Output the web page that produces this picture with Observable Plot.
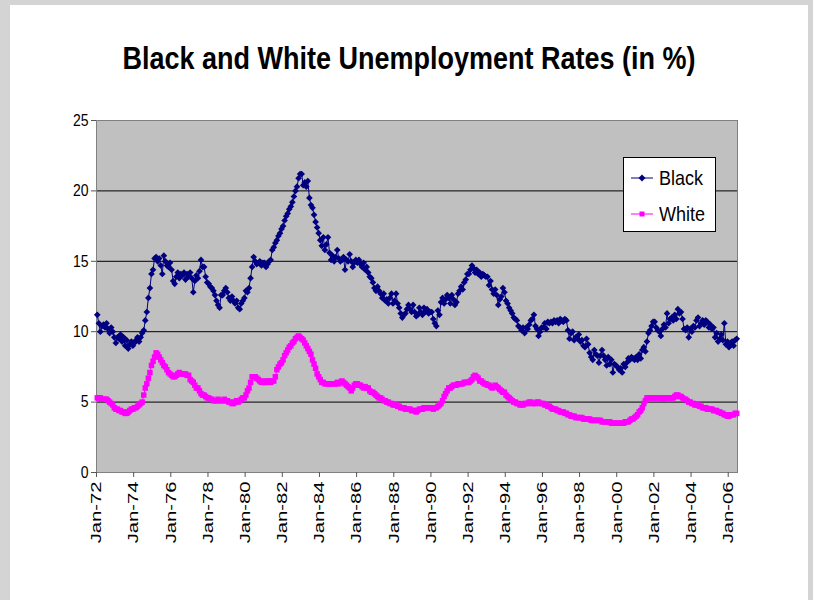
<!DOCTYPE html>
<html>
<head>
<meta charset="utf-8">
<script src="https://cdn.jsdelivr.net/npm/d3@7"></script>
<script src="https://cdn.jsdelivr.net/npm/@observablehq/plot@0.6"></script>
<style>
  html, body { margin: 0; padding: 0; width: 813px; height: 600px; overflow: hidden; background: #d4d4d4;
    font-family: "Liberation Sans", Arial, sans-serif; }
  #page { position: absolute; left: 10px; top: 5px; width: 798px; height: 595px; background: #ffffff; }
  #title { position: absolute; left: 0; top: 44px; width: 818px; text-align: center; font-weight: bold;
    font-size: 27px; color: #000; transform: scaleY(1.15); transform-origin: 50% 50%; white-space: nowrap; }
  #chart { position: absolute; left: 0; top: 0; }
  #legend { position: absolute; left: 623px; top: 157px; width: 93px; height: 75px; background: #fff;
    border: 1px solid #000; box-sizing: border-box; }
  .row { position: absolute; left: 6px; height: 22px; display: flex; align-items: center; }
  .row span { font-size: 18px; margin-left: 5px; color: #000; display: inline-block; transform: scaleY(1.1); }
</style>
</head>
<body>
<div id="page"></div>
<div id="chart"></div>
<div id="title">Black and White Unemployment Rates (in %)</div>
<div id="legend">
  <div class="row" style="top:9px"><svg width="24" height="14"><line x1="1" y1="7" x2="23" y2="7" stroke="#000080" stroke-width="1"/><path d="M12,3.5L15.5,7L12,10.5L8.5,7Z" fill="#000080"/></svg><span>Black</span></div>
  <div class="row" style="top:45px"><svg width="24" height="14"><line x1="1" y1="7" x2="23" y2="7" stroke="#ff00ff" stroke-width="1"/><rect x="9.5" y="4.5" width="5" height="5" fill="#ff00ff"/></svg><span>White</span></div>
</div>
<script>
// Monthly unemployment rates (%), Jan 1972 – Jun 2006, one row per year
const black = [
  11.2, 10.6, 10.0, 10.4, 10.5, 10.3, 10.6, 10.2, 9.9, 10.3, 10.0, 9.6,   // 1972
  9.2, 9.6, 9.5, 9.8, 9.3, 9.6, 9.0, 9.4, 8.8, 9.1, 9.3, 9.0,             // 1973
  9.2, 9.4, 9.6, 9.3, 9.6, 9.9, 10.1, 10.8, 11.4, 12.4, 13.1, 14.1,       // 1974
  14.4, 15.2, 15.3, 15.0, 15.2, 14.7, 14.1, 15.4, 15.0, 14.7, 14.6, 14.9, // 1975
  14.4, 13.6, 13.4, 13.9, 14.2, 13.8, 14.1, 14.0, 14.2, 13.7, 14.1, 13.9, // 1976
  14.2, 13.8, 12.8, 13.6, 14.0, 13.8, 14.3, 15.1, 14.6, 14.6, 13.9, 13.5, // 1977
  13.4, 13.2, 13.1, 12.9, 12.6, 12.2, 11.9, 11.7, 12.6, 12.6, 12.9, 13.1, // 1978
  12.8, 12.4, 12.2, 12.5, 12.2, 12.0, 12.2, 11.7, 11.6, 12.0, 12.2, 12.4, // 1979
  12.9, 12.8, 13.1, 13.8, 14.6, 15.3, 15.0, 14.8, 14.9, 15.0, 14.7, 14.9, // 1980
  14.9, 14.6, 14.8, 15.0, 15.1, 15.8, 16.0, 16.3, 16.5, 16.8, 17.0, 17.3, // 1981
  17.5, 17.9, 18.2, 18.4, 18.7, 18.9, 19.2, 19.6, 20.0, 20.3, 20.9, 21.2, // 1982
  21.2, 20.4, 20.6, 20.3, 20.7, 19.5, 19.0, 18.8, 18.3, 17.8, 17.4, 17.0, // 1983
  16.5, 16.1, 16.7, 15.8, 16.2, 16.7, 15.6, 15.1, 15.4, 15.0, 15.3, 15.8, // 1984
  15.2, 15.0, 15.1, 15.3, 14.4, 15.1, 15.0, 15.5, 15.0, 14.6, 14.9, 15.1, // 1985
  14.9, 15.1, 14.8, 14.6, 14.9, 14.4, 14.6, 14.2, 13.9, 13.8, 13.5, 13.1, // 1986
  12.9, 13.2, 12.9, 12.7, 12.4, 12.7, 12.2, 12.3, 12.0, 12.4, 12.7, 12.0, // 1987
  12.2, 12.7, 12.0, 11.7, 11.3, 11.0, 11.2, 11.3, 11.6, 11.9, 11.6, 11.4, // 1988
  11.9, 11.4, 11.1, 11.2, 11.7, 11.4, 11.2, 11.7, 11.4, 11.6, 11.3, 11.4, // 1989
  11.4, 10.9, 10.6, 10.4, 11.5, 11.2, 12.1, 12.4, 12.0, 12.3, 12.6, 12.4, // 1990
  12.0, 12.6, 12.3, 11.9, 12.1, 12.7, 12.9, 13.2, 13.0, 13.5, 13.7, 14.1, // 1991
  14.1, 14.4, 14.7, 14.5, 14.2, 14.4, 14.1, 14.2, 13.9, 14.1, 14.0, 13.9, // 1992
  13.9, 13.3, 13.6, 13.0, 12.7, 13.0, 12.6, 11.9, 12.3, 12.5, 13.1, 12.8, // 1993
  12.2, 12.0, 11.7, 11.5, 11.3, 11.0, 10.9, 10.8, 10.4, 10.3, 10.1, 10.3, // 1994
  9.9, 10.3, 10.2, 10.5, 10.8, 10.9, 11.2, 10.4, 10.2, 9.7, 10.0, 10.3,   // 1995
  10.3, 10.6, 10.2, 10.7, 10.6, 10.7, 10.6, 10.8, 10.7, 10.8, 10.6, 10.9, // 1996
  10.8, 10.7, 10.9, 10.8, 10.1, 9.5, 9.9, 10.0, 9.4, 9.6, 9.5, 9.8,       // 1997
  9.3, 9.4, 9.0, 8.9, 9.5, 9.1, 8.5, 8.2, 8.0, 8.7, 8.4, 8.3,             // 1998
  7.8, 8.3, 8.7, 8.3, 8.0, 7.6, 8.2, 7.7, 8.0, 7.1, 7.7, 7.6,             // 1999
  7.5, 7.3, 7.4, 7.1, 7.7, 7.5, 7.8, 8.1, 8.0, 8.2, 8.1, 8.0,             // 2000
  8.2, 8.0, 8.4, 8.1, 8.7, 8.9, 8.6, 9.3, 9.9, 10.1, 10.4, 10.7,          // 2001
  10.7, 10.3, 10.1, 10.0, 9.7, 10.2, 10.5, 10.3, 11.3, 10.6, 10.9, 11.0,  // 2002
  10.8, 11.2, 10.9, 11.6, 11.3, 11.4, 10.9, 10.2, 10.1, 10.3, 9.6, 10.2,  // 2003
  10.0, 10.4, 10.3, 10.8, 11.0, 10.4, 10.6, 10.8, 10.5, 10.8, 10.7, 10.3, // 2004
  10.5, 10.2, 10.3, 9.6, 9.9, 9.3, 9.5, 9.8, 9.4, 10.6, 9.1, 9.3,         // 2005
  8.9, 9.2, 9.3, 9.0, 9.4, 9.5                                             // 2006
];
const white = [
  5.3, 5.3, 5.3, 5.2, 5.2, 5.2, 5.2, 5.1, 5.0, 4.9, 4.8, 4.6, // 1972
  4.5, 4.5, 4.4, 4.4, 4.3, 4.3, 4.2, 4.2, 4.3, 4.4, 4.5, 4.5, // 1973
  4.6, 4.6, 4.7, 4.8, 4.9, 5.0, 5.5, 6.0, 6.3, 6.7, 7.1, 7.6, // 1974
  7.9, 8.2, 8.5, 8.4, 8.2, 8.0, 7.8, 7.6, 7.5, 7.3, 7.1, 7.0, // 1975
  6.9, 6.8, 6.8, 6.9, 7.0, 7.1, 7.0, 7.0, 7.0, 7.0, 6.9, 6.9, // 1976
  6.6, 6.5, 6.4, 6.2, 6.0, 6.0, 5.8, 5.6, 5.5, 5.5, 5.4, 5.3, // 1977
  5.3, 5.2, 5.2, 5.1, 5.1, 5.1, 5.2, 5.1, 5.1, 5.1, 5.2, 5.1, // 1978
  5.1, 5.0, 5.0, 4.9, 4.9, 5.0, 5.1, 5.0, 5.1, 5.2, 5.3, 5.3, // 1979
  5.5, 5.8, 6.0, 6.4, 6.8, 6.8, 6.8, 6.7, 6.6, 6.5, 6.4, 6.5, // 1980
  6.4, 6.4, 6.5, 6.5, 6.4, 6.5, 6.5, 6.8, 7.3, 7.5, 7.7, 7.8, // 1981
  8.0, 8.3, 8.5, 8.7, 8.9, 9.0, 9.2, 9.3, 9.5, 9.6, 9.7, 9.6, // 1982
  9.5, 9.4, 9.2, 9.0, 8.8, 8.6, 8.4, 8.0, 7.7, 7.4, 7.0, 6.8, // 1983
  6.6, 6.4, 6.4, 6.3, 6.3, 6.3, 6.3, 6.3, 6.3, 6.3, 6.3, 6.4, // 1984
  6.3, 6.4, 6.5, 6.4, 6.3, 6.2, 6.1, 6.0, 5.8, 6.0, 6.2, 6.3, // 1985
  6.3, 6.2, 6.2, 6.1, 6.0, 6.1, 6.0, 6.0, 5.8, 5.7, 5.7, 5.6, // 1986
  5.5, 5.4, 5.3, 5.3, 5.2, 5.1, 5.1, 5.0, 5.0, 4.9, 4.9, 4.8, // 1987
  4.8, 4.8, 4.7, 4.7, 4.6, 4.6, 4.6, 4.5, 4.5, 4.5, 4.5, 4.4, // 1988
  4.4, 4.4, 4.3, 4.4, 4.5, 4.5, 4.5, 4.6, 4.6, 4.6, 4.6, 4.6, // 1989
  4.6, 4.5, 4.6, 4.6, 4.7, 4.8, 4.9, 5.1, 5.4, 5.6, 5.8, 6.0, // 1990
  6.0, 6.1, 6.2, 6.2, 6.2, 6.3, 6.3, 6.3, 6.3, 6.4, 6.4, 6.4, // 1991
  6.4, 6.5, 6.6, 6.8, 6.9, 6.8, 6.7, 6.5, 6.5, 6.4, 6.3, 6.3, // 1992
  6.2, 6.2, 6.1, 6.0, 6.1, 6.2, 6.1, 6.0, 5.9, 5.8, 5.7, 5.7, // 1993
  5.5, 5.4, 5.3, 5.2, 5.1, 5.0, 5.0, 4.9, 4.9, 4.8, 4.8, 4.8, // 1994
  4.9, 4.9, 4.9, 5.0, 5.0, 4.9, 4.9, 4.9, 5.0, 5.0, 4.9, 4.9, // 1995
  4.9, 4.8, 4.8, 4.7, 4.7, 4.6, 4.5, 4.5, 4.5, 4.4, 4.4, 4.3, // 1996
  4.3, 4.3, 4.2, 4.2, 4.1, 4.1, 4.0, 4.0, 4.0, 3.9, 3.9, 3.9, // 1997
  3.9, 3.9, 3.8, 3.8, 3.8, 3.8, 3.8, 3.7, 3.7, 3.7, 3.7, 3.7, // 1998
  3.7, 3.7, 3.6, 3.6, 3.6, 3.6, 3.6, 3.6, 3.5, 3.5, 3.5, 3.5, // 1999
  3.5, 3.5, 3.5, 3.5, 3.5, 3.6, 3.6, 3.6, 3.7, 3.8, 3.8, 3.9, // 2000
  4.0, 4.1, 4.3, 4.4, 4.6, 4.9, 5.1, 5.3, 5.3, 5.3, 5.3, 5.3, // 2001
  5.3, 5.3, 5.3, 5.3, 5.3, 5.2, 5.3, 5.3, 5.3, 5.3, 5.3, 5.3, // 2002
  5.3, 5.4, 5.5, 5.5, 5.4, 5.4, 5.3, 5.2, 5.2, 5.1, 5.0, 5.0, // 2003
  4.9, 4.9, 4.8, 4.8, 4.8, 4.7, 4.7, 4.6, 4.6, 4.6, 4.5, 4.5, // 2004
  4.5, 4.5, 4.4, 4.4, 4.4, 4.3, 4.3, 4.2, 4.2, 4.1, 4.1, 4.0, // 2005
  4.0, 4.1, 4.1, 4.1, 4.2, 4.2                                // 2006
];
const xTickLabels = ["Jan-72","Jan-74","Jan-76","Jan-78","Jan-80","Jan-82","Jan-84","Jan-86","Jan-88",
  "Jan-90","Jan-92","Jan-94","Jan-96","Jan-98","Jan-00","Jan-02","Jan-04","Jan-06"];
const xTickMonths = [0,24,48,72,96,120,144,168,192,216,240,264,288,312,336,360,384,408];
const yTicks = [0, 5, 10, 15, 20, 25];
const gridValues = [5, 10, 15, 20];

const blackData = black.map((v, i) => ({m: i + 0.5, v}));
const whiteData = white.map((v, i) => ({m: i + 0.5, v}));
const labelOf = new Map(xTickMonths.map((m, k) => [m, xTickLabels[k]]));

const chart = Plot.plot({
  width: 813,
  height: 560,
  marginLeft: 96,
  marginRight: 76,
  marginTop: 120,
  marginBottom: 88,
  style: {background: "transparent", fontFamily: "'Liberation Sans', Arial, sans-serif", fontSize: "14px", color: "#000", overflow: "visible"},
  x: {type: "linear", domain: [0, black.length], axis: null},
  y: {domain: [0, 25], axis: null},
  marks: [
    Plot.frame({fill: "#c0c0c0", stroke: null}),
    Plot.gridY(gridValues, {stroke: "#000", strokeOpacity: 1, strokeWidth: 1}),
    Plot.frame({stroke: "#808080", strokeWidth: 1}),
    Plot.axisY(yTicks, {anchor: "left", tickSize: 5, tickPadding: 3, stroke: "#555", fill: "#000", fontSize: 14, label: null}),
    Plot.axisX(xTickMonths, {anchor: "bottom", tickSize: 5, tickPadding: 4, stroke: "#555", fill: "#000", fontSize: 15,
      tickRotate: -90, tickFormat: (d) => labelOf.get(d), label: null}),
    Plot.line(blackData, {x: "m", y: "v", stroke: "#000080", strokeWidth: 1}),
    Plot.dot(blackData, {x: "m", y: "v", symbol: "diamond2", r: 3, fill: "#000080", stroke: null}),
    Plot.line(whiteData, {x: "m", y: "v", stroke: "#ff00ff", strokeWidth: 1}),
    Plot.dot(whiteData, {x: "m", y: "v", symbol: "square", r: 3.1, fill: "#ff00ff", stroke: null})
  ]
});
document.getElementById("chart").appendChild(chart);

// stretch rotated x tick labels along their length (reference text is vertically stretched)
chart.querySelectorAll('[aria-label="x-axis tick label"] text').forEach((t) => {
  const tr = t.getAttribute("transform");
  if (tr) t.setAttribute("transform", tr + " scale(1.35,1)");
});
chart.querySelectorAll('[aria-label="y-axis tick label"] text').forEach((t) => {
  const tr = t.getAttribute("transform");
  if (tr) t.setAttribute("transform", tr + " scale(1,1.2)");
});
</script>
</body>
</html>
